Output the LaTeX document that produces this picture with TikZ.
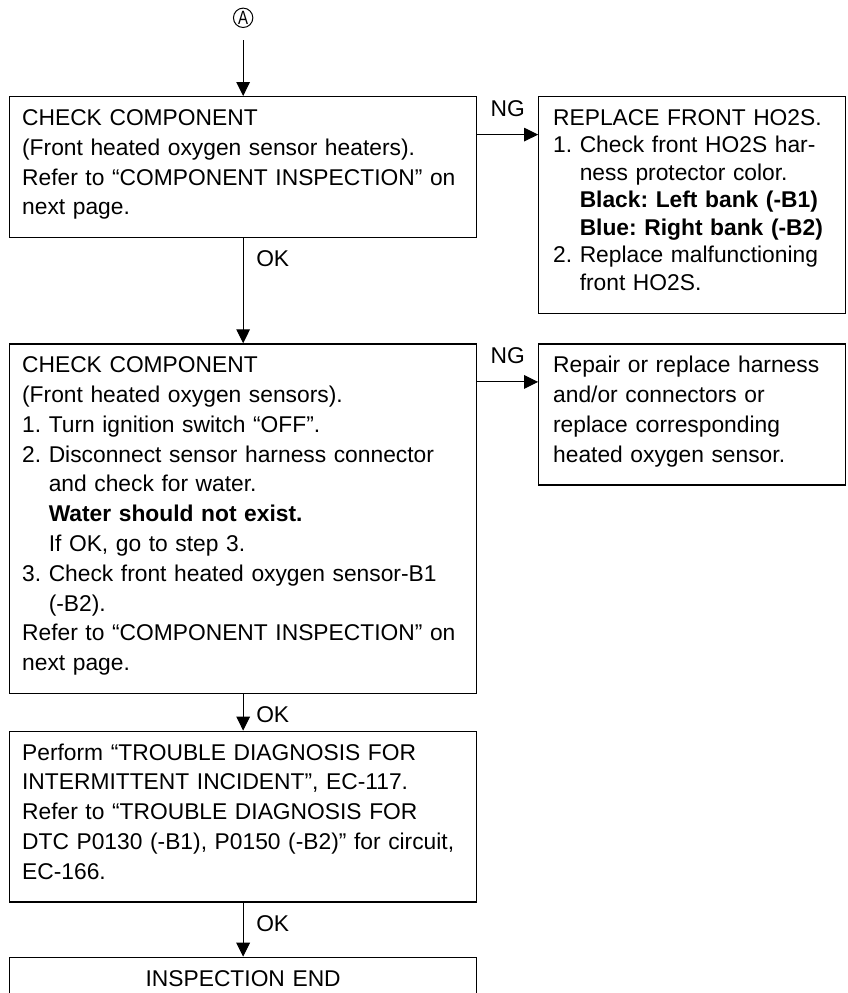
\documentclass[tikz,border=0pt]{standalone}
\usepackage{fontspec}
\setmainfont{Liberation Sans}
\usepackage{graphicx}
\usepackage{tikz}
\usetikzlibrary{arrows.meta,positioning}

\frenchspacing
\newcommand{\topgap}{\rule{0pt}{14.4pt}}
\newcommand{\botgap}{\rule[-11.4pt]{0pt}{0pt}}
\newcommand{\subind}{\phantom{2.\ }}

\begin{document}
\begin{tikzpicture}[
  font=\fontsize{11.4}{14.9}\selectfont,
  box/.style={draw, line width=0.65pt, align=left, inner ysep=0pt},
  checkbox/.style={box, anchor=north west, text width=221pt, inner xsep=6.25pt},
  fixbox/.style={box, text width=139.1pt, inner xsep=7.2pt},
  arrow/.style={-{Triangle[length=7pt,width=6.8pt]}, line width=0.5pt},
  oklabel/.style={anchor=north west, inner sep=0pt, xshift=6.3pt, yshift=-6pt},
  nglabel/.style={above=8.8pt, inner sep=0pt}
]
  \path[use as bounding box, clip] (-4.5pt,48pt) rectangle (419.5pt,-448.5pt);

  \node[checkbox] (comp1) at (0,0) {\topgap CHECK COMPONENT\\(Front heated oxygen sensor heaters).\\Refer to “COMPONENT INSPECTION” on\\next page.\botgap};
  \node[checkbox, below=52.5pt of comp1] (comp2) {\topgap CHECK COMPONENT\\(Front heated oxygen sensors).\\1. Turn ignition switch “OFF”.\\2. Disconnect sensor harness connector\\\subind and check for water.\\\subind\textbf{Water should not exist.}\\\subind If OK, go to step 3.\\3. Check front heated oxygen sensor-B1\\\subind (-B2).\\Refer to “COMPONENT INSPECTION” on\\next page.\botgap};
  \node[checkbox, below=18.2pt of comp2] (perform) {\topgap Perform “TROUBLE DIAGNOSIS FOR\\INTERMITTENT INCIDENT”, EC-117.\\Refer to “TROUBLE DIAGNOSIS FOR\\DTC P0130 (-B1), P0150 (-B2)” for circuit,\\EC-166.\botgap};
  \node[checkbox, below=27pt of perform, align=center] (finish) {\topgap INSPECTION END\botgap};

  \node[fixbox, right=30.4pt of comp1.north east, anchor=north west, font=\fontsize{11.4}{13.75}\selectfont] (replace) {\topgap REPLACE FRONT HO2S.\\1. Check front HO2S har-\\\subind ness protector color.\\\subind\textbf{Black: Left bank (-B1)}\\\subind\textbf{Blue: Right bank (-B2)}\\2. Replace malfunctioning\\\subind front HO2S.\botgap};
  \node[fixbox, right=30.4pt of comp2.north east, anchor=north west] (repair) {\topgap Repair or replace harness\\and/or connectors or\\replace corresponding\\heated oxygen sensor.\botgap};

  \node[circle, draw, line width=0.5pt, minimum size=9.7pt, inner sep=0pt, above=34pt of comp1, font=\fontsize{9.6}{10}\selectfont] (conA) {\scalebox{0.78}[1]{A}};

  \draw[arrow, shorten <=6pt] (conA) -- (comp1);
  \draw[arrow] (comp1) -- (comp2) node[pos=0, oklabel] {OK};
  \draw[arrow] (comp2) -- (perform) node[pos=0, oklabel] {OK};
  \draw[arrow] (perform) -- (finish) node[pos=0, oklabel] {OK};
  \draw[arrow] ([yshift=-19.3pt]comp1.north east) -- ([yshift=-19.3pt]replace.north west) node[midway, nglabel] {NG};
  \draw[arrow] ([yshift=-19.3pt]comp2.north east) -- ([yshift=-19.3pt]repair.north west) node[midway, nglabel] {NG};
\end{tikzpicture}
\end{document}
